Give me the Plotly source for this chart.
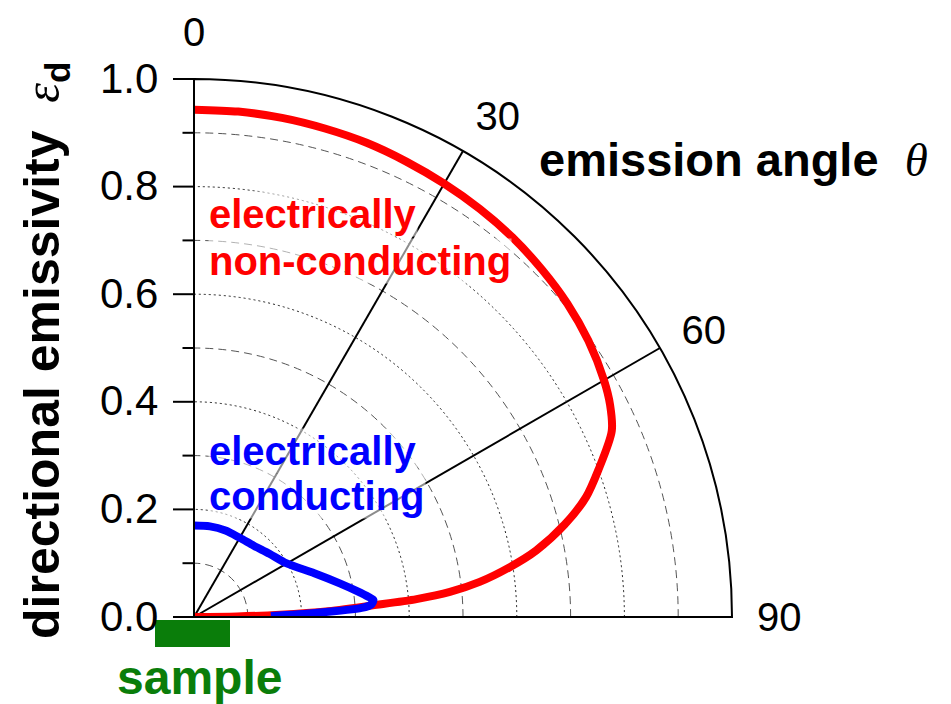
import plotly.graph_objects as go

# ---- data ----
theta_nonconducting = [0, 5, 10, 15, 20, 25, 30, 35, 40, 45, 50, 55, 60, 63, 66, 70, 73, 76, 79, 81,
                       83, 84.4, 85.4, 86.2, 87.5, 88.5, 89.3, 90]
eps_nonconducting = [0.943, 0.943, 0.942, 0.940, 0.938, 0.934, 0.930, 0.926, 0.921, 0.914, 0.906, 0.895,
                     0.880, 0.868, 0.850, 0.800, 0.762, 0.710, 0.648, 0.595, 0.535, 0.478, 0.415, 0.340,
                     0.250, 0.160, 0.080, 0.0]

theta_conducting = [0, 10, 20, 30, 40, 50, 60, 70, 77, 81, 83.5, 84.6, 86, 86.9, 88.1, 89.2]
eps_conducting = [0.170, 0.171, 0.171, 0.170, 0.173, 0.183, 0.199, 0.238, 0.278, 0.307, 0.327,
                  0.335, 0.330, 0.312, 0.226, 0.143]

angle_ticks = [0, 30, 60, 90]
angle_labels = ["0", "30", "60", "90"]
r_major = [0.0, 0.2, 0.4, 0.6, 0.8, 1.0]
r_major_labels = ["0.0", "0.2", "0.4", "0.6", "0.8", "1.0"]
r_minor = [0.1, 0.3, 0.5, 0.7, 0.9]

W, H = 951, 704
FONT = "Liberation Sans, Arial, sans-serif"
SERIF = "Liberation Serif"


def px(x):
    return x / W


def py(y):
    return 1 - y / H


cx, cy, R = 194, 617, 538
dom_x = [px(cx), px(cx + R)]
dom_y = [py(cy), py(cy - R)]

fig = go.Figure()
# placeholder trace so the lower polar subplot (dashed minor grid) is drawn
fig.add_trace(go.Scatterpolar(r=[0], theta=[0], mode="markers", marker=dict(size=1, opacity=0),
                              subplot="polar", showlegend=False, hoverinfo="skip"))
fig.add_trace(go.Scatterpolar(
    r=eps_nonconducting, theta=theta_nonconducting, mode="lines",
    line=dict(color="#ff0000", width=8, shape="spline", smoothing=0.8),
    subplot="polar2", showlegend=False, hoverinfo="skip"))
fig.add_trace(go.Scatterpolar(
    r=eps_conducting, theta=theta_conducting, mode="lines",
    line=dict(color="#0000ff", width=8, shape="spline", smoothing=0.8),
    subplot="polar2", showlegend=False, hoverinfo="skip"))

fig.update_layout(
    width=W, height=H, margin=dict(l=0, r=0, t=0, b=0),
    paper_bgcolor="white", showlegend=False,
    font=dict(family=FONT, color="black"),
    polar=dict(
        domain=dict(x=dom_x, y=dom_y), sector=[0, 90], bgcolor="white",
        angularaxis=dict(rotation=90, direction="clockwise", showgrid=False,
                         showline=False, showticklabels=False, ticks=""),
        radialaxis=dict(range=[0, 1], angle=90, side="counterclockwise",
                        tickmode="array", tickvals=r_minor, showticklabels=False,
                        ticks="outside", ticklen=11, tickwidth=2, tickcolor="black",
                        showgrid=True, gridcolor="#555", griddash="8px,5px", gridwidth=1.2,
                        showline=False),
    ),
    polar2=dict(
        domain=dict(x=dom_x, y=dom_y), sector=[0, 90], bgcolor="rgba(0,0,0,0)",
        angularaxis=dict(rotation=90, direction="clockwise",
                         tickmode="array", tickvals=angle_ticks, ticktext=angle_labels,
                         showline=True, linecolor="black", linewidth=2,
                         showgrid=True, gridcolor="black", gridwidth=2,
                         ticks="outside", ticklen=16, tickcolor="rgba(0,0,0,0)",
                         tickfont=dict(size=40, family=FONT, color="black")),
        radialaxis=dict(range=[0, 1], angle=90, side="counterclockwise", tickangle=90,
                        tickmode="array", tickvals=r_major, ticktext=r_major_labels,
                        ticks="outside", ticklen=20, tickwidth=2, tickcolor="black",
                        tickfont=dict(size=42, family=FONT, color="black"),
                        showline=True, linecolor="black", linewidth=2,
                        showgrid=True, gridcolor="#222", griddash="2px,3px", gridwidth=1.4),
    ),
)

# sample block
fig.add_shape(type="rect", xref="paper", yref="paper", layer="below",
              x0=px(155), x1=px(230), y0=py(647), y1=py(620),
              fillcolor="#0a7d0a", line=dict(width=0))

ann = []
bg = "rgba(255,255,255,0.55)"
ann.append(dict(x=px(208), y=py(214), text="<b>electrically</b>", xanchor="left", yanchor="middle",
                font=dict(size=40, color="#ff0000", family=FONT), bgcolor=bg, borderpad=0))
ann.append(dict(x=px(208), y=py(261), text="<b>non-conducting</b>", xanchor="left", yanchor="middle",
                font=dict(size=40, color="#ff0000", family=FONT), bgcolor=bg, borderpad=0))
ann.append(dict(x=px(208), y=py(451), text="<b>electrically</b>", xanchor="left", yanchor="middle",
                font=dict(size=40, color="#0000ff", family=FONT), bgcolor=bg, borderpad=0))
ann.append(dict(x=px(208), y=py(496), text="<b>conducting</b>", xanchor="left", yanchor="middle",
                font=dict(size=40, color="#0000ff", family=FONT), bgcolor=bg, borderpad=0))
ann.append(dict(x=px(537), y=py(159),
                text="<b>emission angle</b>  <span style='font-family:" + SERIF + "'><i>θ</i></span>",
                xanchor="left", yanchor="middle",
                font=dict(size=47, color="black", family=FONT)))
ann.append(dict(x=px(45), y=py(351),
                text="<b>directional emissivity</b>  <span style='font-family:" + SERIF + "'><i>ε</i></span><sub><b>d</b></sub>",
                textangle=-90, xanchor="center", yanchor="middle",
                font=dict(size=50, color="black", family=FONT)))
ann.append(dict(x=px(199), y=py(677), text="<b>sample</b>", xanchor="center", yanchor="middle",
                font=dict(size=48, color="#0a7d0a", family=FONT)))
for a in ann:
    a.update(xref="paper", yref="paper", showarrow=False)
fig.update_layout(annotations=ann)

fig.write_html("out.html")
